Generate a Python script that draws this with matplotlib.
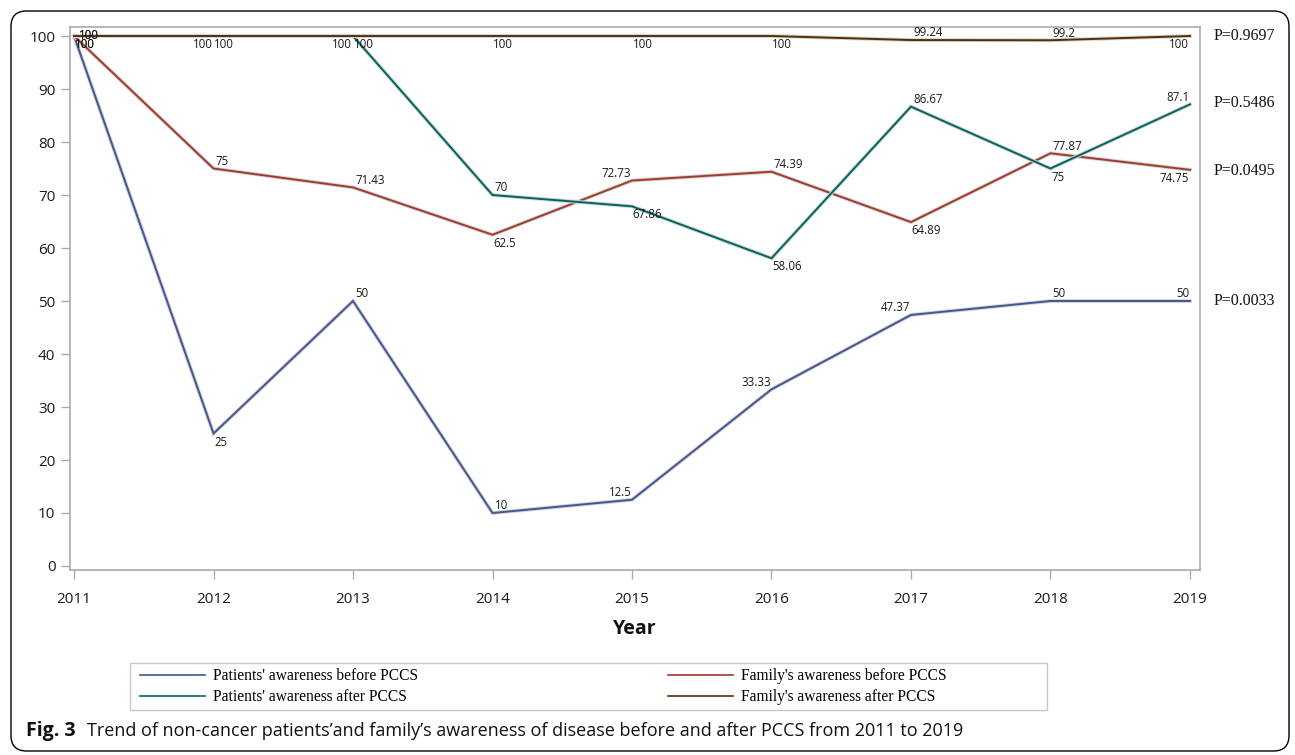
import matplotlib
matplotlib.use("Agg")
import matplotlib.pyplot as plt
import matplotlib.patheffects as pe
from matplotlib.patches import FancyBboxPatch, Rectangle
from matplotlib.lines import Line2D

# ---------------- data ----------------
years = [2011, 2012, 2013, 2014, 2015, 2016, 2017, 2018, 2019]
patients_before = [100, 25, 50, 10, 12.5, 33.33, 47.37, 50, 50]
family_before = [100, 75, 71.43, 62.5, 72.73, 74.39, 64.89, 77.87, 74.75]
patients_after = [100, 100, 100, 70, 67.86, 58.06, 86.67, 75, 87.1]
family_after = [100, 100, 100, 100, 100, 100, 99.24, 99.2, 100]

series_names = ["Patients' awareness before PCCS", "Family's awareness before PCCS",
                "Patients' awareness after PCCS", "Family's awareness after PCCS"]
p_values = ["P=0.0033", "P=0.0495", "P=0.5486", "P=0.9697"]
p_value_y = [50, 74.5, 87.3, 100]
y_ticks = [0, 10, 20, 30, 40, 50, 60, 70, 80, 90, 100]

# ---------------- style ----------------
colors = ["#445694", "#A23A2E", "#01665E", "#543005"]
# label placement per point: ar=above right, al=above left, br=below right,
# bl=below left, r=right (centred on the point)
placements = [
    ["br", "br", "ar", "ar", "al", "al", "al", "ar", "al"],
    ["r", "ar", "ar", "br", "al", "ar", "br", "ar", "bl"],
    ["br", "bl", "bl", "ar", "br", "br", "ar", "br", "al"],
    ["r", "br", "br", "br", "br", "br", "ar", "ar", "bl"],
]

W, H = 1295, 755
fig = plt.figure(figsize=(W / 100, H / 100), dpi=100)

def fx(px):
    return px / W

def fy(py):
    return 1 - py / H

# outer rounded frame
frame = FancyBboxPatch((fx(11), fy(751)), fx(1289) - fx(11), fy(11) - fy(751),
                       boxstyle="round,pad=0,rounding_size=0.012",
                       transform=fig.transFigure, fill=False, edgecolor="black",
                       linewidth=1.0, mutation_aspect=W / H)
fig.patches.append(frame)

ax = fig.add_axes([fx(70), fy(570), fx(1200) - fx(70), fy(27) - fy(570)])
ax.set_xlim(2010.971, 2019.072)
ax.set_ylim(-0.755, 101.7)

spine_col = "#a8acb0"
for s in ax.spines.values():
    s.set_color(spine_col)
    s.set_linewidth(1.2)

ax.set_xticks(years)
ax.set_xticklabels([str(y) for y in years])
ax.set_yticks(y_ticks)
ax.tick_params(axis="both", colors=spine_col, labelcolor="#1a1a1a", length=6.5,
               width=1.0, labelsize=11)
ax.tick_params(axis="x", pad=9)
ax.tick_params(axis="y", pad=4)
for lab in ax.get_xticklabels() + ax.get_yticklabels():
    lab.set_fontfamily("Open Sans")

ax.set_xlabel("Year", fontsize=14, fontweight="bold", fontfamily="Open Sans",
              labelpad=9, color="#111111")

all_series = [patients_before, family_before, patients_after, family_after]
handles = []
for vals, col, name in zip(all_series, colors, series_names):
    ax.plot(years, vals, color=col, linewidth=1.4, solid_joinstyle="miter",
            path_effects=[pe.Stroke(linewidth=2.8, foreground="#d4d4d4"), pe.Normal()],
            label=name, zorder=3)
    handles.append(Line2D([0], [0], color=col, linewidth=1.2))

offsets = {"ar": ((1.5, 0.5), "left", "bottom"),
           "al": ((-0.5, 0.5), "right", "bottom"),
           "br": ((0.5, -1.5), "left", "top"),
           "bl": ((-0.5, -1.5), "right", "top"),
           "r": ((3.5, 0.5), "left", "center")}

def fmt(v):
    return ("%g" % v)

for vals, places in zip(all_series, placements):
    for x, v, p in zip(years, vals, places):
        (dx, dy), ha, va = offsets[p]
        ax.annotate(fmt(v), (x, v), xytext=(dx, dy), textcoords="offset points",
                    ha=ha, va=va, fontsize=8.3, fontfamily="Open Sans",
                    color="#1a1a1a", zorder=4)

# p-values at right
for txt, yv in zip(p_values, p_value_y):
    ax.text(1.012, yv, txt, transform=ax.get_yaxis_transform(), ha="left",
            va="center", fontsize=11.5, fontfamily="Liberation Serif", color="#111111")

# legend (two columns drawn as two legends) + frame
fig.patches.append(Rectangle((fx(130), fy(710)), fx(1047) - fx(130), fy(663) - fy(710),
                             transform=fig.transFigure, fill=False,
                             edgecolor="#c8c8c8", linewidth=1.0))
leg_kw = dict(frameon=False, handlelength=4.2, handletextpad=0.5,
              labelspacing=0.32, borderpad=0, borderaxespad=0,
              prop={"family": "Liberation Serif", "size": 11.2})
leg1 = fig.legend([handles[0], handles[2]], [series_names[0], series_names[2]],
                  loc="upper left", bbox_to_anchor=(fx(140), fy(668)), **leg_kw)
leg2 = fig.legend([handles[1], handles[3]], [series_names[1], series_names[3]],
                  loc="upper left", bbox_to_anchor=(fx(668), fy(668)), **leg_kw)

# caption
fig.text(fx(26), fy(731), "Fig. 3", fontsize=14, fontweight="bold",
         fontfamily="Open Sans", va="center", ha="left", color="#111111")
fig.text(fx(87), fy(731),
         "Trend of non-cancer patients\u2019and family\u2019s awareness of disease before and after PCCS from 2011 to 2019",
         fontsize=13.0, fontfamily="Open Sans", va="center", ha="left", color="#111111")

fig.savefig("out.png", dpi=100)
